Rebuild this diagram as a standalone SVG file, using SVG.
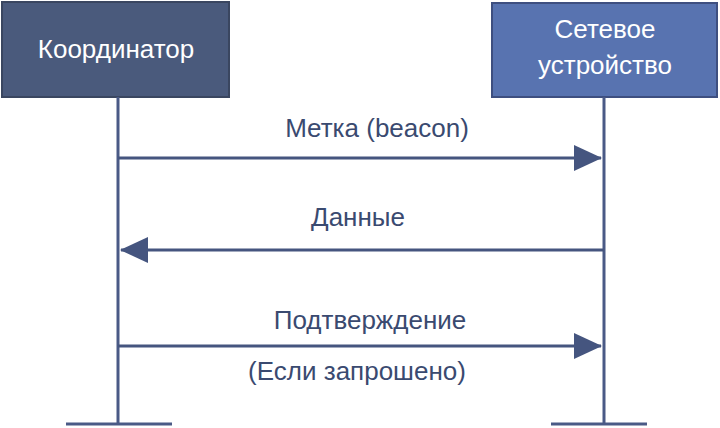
<svg xmlns="http://www.w3.org/2000/svg" width="720" height="428" viewBox="0 0 720 428">
<style>
text{font-family:"Liberation Sans",Arial,sans-serif;font-size:26px}
.lbl{fill:#3a4a70;text-anchor:middle}
.hd{fill:#fff;text-anchor:middle}
.life{stroke:#4a5a86;stroke-width:3;fill:none}
.conn{stroke:#45557f;stroke-width:3;fill:none}
</style>
<defs>
<marker id="ah" markerWidth="28" markerHeight="26" refX="27" refY="13" orient="auto" markerUnits="userSpaceOnUse">
<path d="M0,0 L28,13 L0,26 Z" fill="#45557f"/>
</marker>
</defs>
<rect width="720" height="428" fill="#fff"/>
<g id="coordinator">
<rect x="2" y="2" width="227" height="95" fill="#4a5a7c" stroke="#3a4660" stroke-width="2"/>
<text class="hd" x="116" y="58">Координатор</text>
<line class="life" x1="118" y1="97" x2="118" y2="424"/>
<line class="life" x1="66" y1="424" x2="172" y2="424"/>
</g>
<g id="device">
<rect x="492" y="3" width="225" height="94" fill="#5873b0" stroke="#3e4f80" stroke-width="2"/>
<text class="hd" x="605" y="38">Сетевое</text>
<text class="hd" x="605" y="74">устройство</text>
<line class="life" x1="604" y1="97" x2="604" y2="424"/>
<line class="life" x1="551" y1="424" x2="647" y2="424"/>
</g>
<g id="connectors">
<line class="conn" x1="118" y1="158" x2="601" y2="158" marker-end="url(#ah)"/>
<line class="conn" x1="604" y1="250" x2="121" y2="250" marker-end="url(#ah)"/>
<line class="conn" x1="118" y1="346" x2="601" y2="346" marker-end="url(#ah)"/>
<text class="lbl" x="377" y="137">Метка (beacon)</text>
<text class="lbl" x="358" y="226">Данные</text>
<text class="lbl" x="370" y="329">Подтверждение</text>
<text class="lbl" x="357" y="380">(Если запрошено)</text>
</g>
</svg>
